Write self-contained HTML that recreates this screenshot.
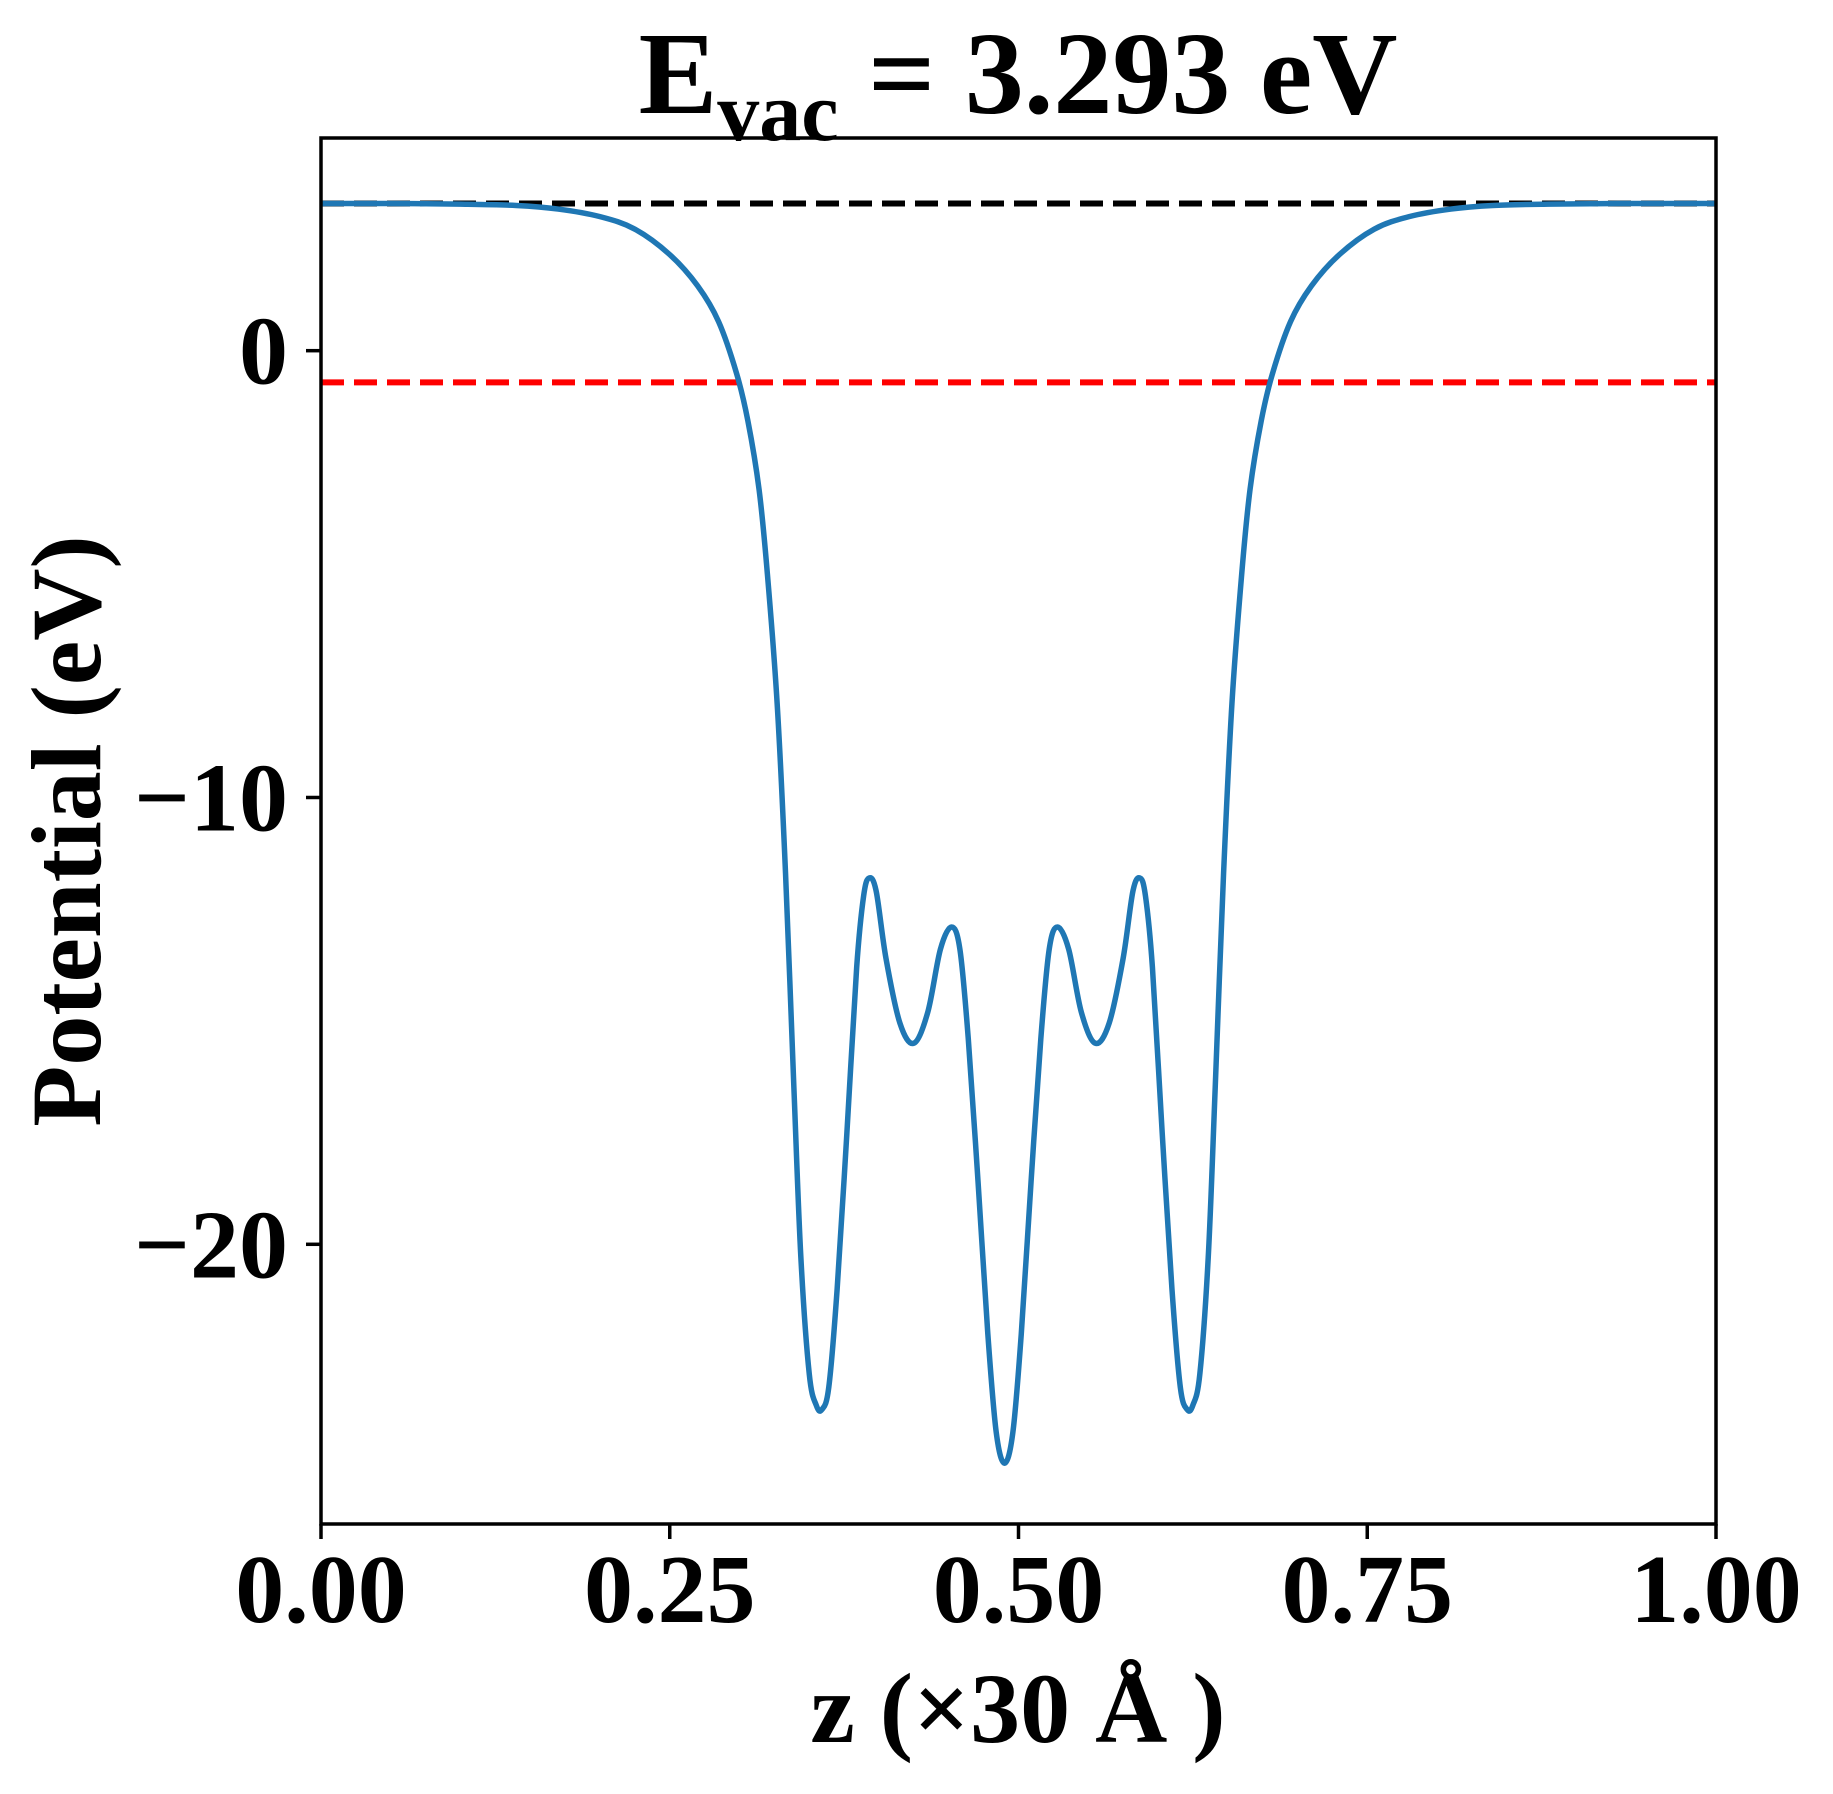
<!DOCTYPE html>
<html>
<head>
<meta charset="utf-8">
<style>
  html,body{margin:0;padding:0;background:#fff;}
  svg{display:block;}
  text{font-family:"Liberation Serif","DejaVu Serif",serif;font-weight:bold;fill:#000;}
</style>
</head>
<body>
<svg id="chart" width="1833" height="1794" viewBox="0 0 1833 1794" xmlns="http://www.w3.org/2000/svg">
  <g id="plot"></g>
  <g id="axes"></g>
  <text x="1018" y="113" font-size="118" text-anchor="middle">E<tspan font-size="84" dy="27">vac</tspan><tspan dy="-27"> = 3.293 eV</tspan></text>
  <text x="1018" y="1742" font-size="100" text-anchor="middle">z (×30 Å )</text>
  <text transform="translate(100,831) rotate(-90)" font-size="100" text-anchor="middle">Potential (eV)</text>
</svg>
<script>
const zValues = [0, 0.05, 0.10, 0.14, 0.17, 0.20, 0.225, 0.25, 0.27, 0.285, 0.298, 0.306, 0.314, 0.320, 0.327, 0.333, 0.339, 0.344, 0.350, 0.355, 0.359, 0.364, 0.370, 0.377, 0.384, 0.389, 0.393, 0.398, 0.405, 0.415, 0.425, 0.435, 0.444, 0.452, 0.458, 0.464, 0.471, 0.478, 0.484, 0.490,
  0.496, 0.502, 0.509, 0.516, 0.522, 0.528, 0.536, 0.545, 0.555, 0.565, 0.575, 0.582, 0.587, 0.591, 0.596, 0.603, 0.610, 0.616, 0.621, 0.625, 0.630, 0.636, 0.641, 0.647, 0.653, 0.660, 0.666, 0.674, 0.682, 0.695, 0.710, 0.730, 0.755, 0.780, 0.810, 0.840, 0.880, 0.930, 1.0];
const potentialValues = [3.293, 3.293, 3.28, 3.25, 3.17, 3.0, 2.72, 2.15, 1.45, 0.65, -0.52, -1.57, -3.1, -5.0, -7.9, -11.7, -16.5, -20.3, -22.9, -23.6, -23.7, -23.2, -21.0, -17.5, -13.8, -12.2, -11.8, -12.1, -13.6, -15.05, -15.5, -14.8, -13.4, -12.9, -13.4, -15.4, -18.6, -22.0, -24.2, -24.9,
  -24.2, -22.0, -18.6, -15.4, -13.4, -12.9, -13.4, -14.8, -15.5, -15.05, -13.6, -12.1, -11.8, -12.2, -13.8, -17.5, -21.0, -23.2, -23.7, -23.6, -22.9, -20.3, -16.5, -11.7, -7.9, -5.0, -3.1, -1.57, -0.52, 0.65, 1.45, 2.15, 2.72, 3.0, 3.17, 3.25, 3.28, 3.293, 3.293];
const vacuumLevel = [3.293];
const fermiLevel = [-0.71];
const xTicks = [0, 0.25, 0.5, 0.75, 1.0];
const xTickLabels = ["0.00", "0.25", "0.50", "0.75", "1.00"];
const yTicks = [0, -10, -20];
const yTickLabels = ["0", "−10", "−20"];

const L = 321, R = 1716, T = 138, B = 1524;
const xMin = 0, xMax = 1, yMax = 4.76, yMin = -26.26;
function xs(v){ return L + (v - xMin) / (xMax - xMin) * (R - L); }
function ys(v){ return T + (yMax - v) / (yMax - yMin) * (B - T); }

const NS = "http://www.w3.org/2000/svg";
const plot = document.getElementById('plot');
const axes = document.getElementById('axes');

const defs = document.createElementNS(NS, 'defs');
const cp = document.createElementNS(NS, 'clipPath');
cp.setAttribute('id', 'clip');
const cr = document.createElementNS(NS, 'rect');
cr.setAttribute('x', L); cr.setAttribute('y', T); cr.setAttribute('width', R - L); cr.setAttribute('height', B - T);
cp.appendChild(cr); defs.appendChild(cp);
document.getElementById('chart').insertBefore(defs, plot);
plot.setAttribute('clip-path', 'url(#clip)');

const vac = document.createElementNS(NS, 'line');


vac.setAttribute('x1', xs(0)); vac.setAttribute('x2', xs(1));
vac.setAttribute('y1', ys(vacuumLevel[0])); vac.setAttribute('y2', ys(vacuumLevel[0]));
vac.setAttribute('stroke', '#000'); vac.setAttribute('stroke-width', '6');
vac.setAttribute('stroke-dasharray', '23 10');
plot.appendChild(vac);

const ef = document.createElementNS(NS, 'line');


ef.setAttribute('x1', xs(0)); ef.setAttribute('x2', xs(1));
ef.setAttribute('y1', ys(fermiLevel[0])); ef.setAttribute('y2', ys(fermiLevel[0]));
ef.setAttribute('stroke', '#ff0000'); ef.setAttribute('stroke-width', '6');
ef.setAttribute('stroke-dasharray', '23 10');
plot.appendChild(ef);

const pts = zValues.map((z, i) => [xs(z), ys(potentialValues[i])]);
let d = 'M' + pts[0][0].toFixed(2) + ',' + pts[0][1].toFixed(2);
for (let i = 0; i < pts.length - 1; i++) {
  const p0 = pts[Math.max(0, i - 1)], p1 = pts[i], p2 = pts[i + 1], p3 = pts[Math.min(pts.length - 1, i + 2)];
  const c1x = p1[0] + (p2[0] - p0[0]) / 6, c1y = p1[1] + (p2[1] - p0[1]) / 6;
  const c2x = p2[0] - (p3[0] - p1[0]) / 6, c2y = p2[1] - (p3[1] - p1[1]) / 6;
  d += ' C' + c1x.toFixed(2) + ',' + c1y.toFixed(2) + ' ' + c2x.toFixed(2) + ',' + c2y.toFixed(2) + ' ' + p2[0].toFixed(2) + ',' + p2[1].toFixed(2);
}
const curve = document.createElementNS(NS, 'path');


curve.setAttribute('d', d);
curve.setAttribute('fill', 'none');
curve.setAttribute('stroke', '#1f77b4');
curve.setAttribute('stroke-width', '5.5');
curve.setAttribute('stroke-linejoin', 'round');
plot.appendChild(curve);

const frame = document.createElementNS(NS, 'rect');


frame.setAttribute('x', L); frame.setAttribute('y', T);
frame.setAttribute('width', R - L); frame.setAttribute('height', B - T);
frame.setAttribute('fill', 'none'); frame.setAttribute('stroke', '#000'); frame.setAttribute('stroke-width', '3.5');
axes.appendChild(frame);

xTicks.forEach((v, i) => {
  const t = document.createElementNS(NS, 'line');
  
  
  t.setAttribute('x1', xs(v)); t.setAttribute('x2', xs(v));
  t.setAttribute('y1', B); t.setAttribute('y2', B + 15);
  t.setAttribute('stroke', '#000'); t.setAttribute('stroke-width', '3.5');
  axes.appendChild(t);
  const lb = document.createElementNS(NS, 'text');
  
  
  lb.setAttribute('x', xs(v)); lb.setAttribute('y', 1622);
  lb.setAttribute('font-size', '98'); lb.setAttribute('text-anchor', 'middle');
  lb.textContent = xTickLabels[i];
  axes.appendChild(lb);
});

yTicks.forEach((v, i) => {
  const t = document.createElementNS(NS, 'line');
  
  
  t.setAttribute('x1', L - 15); t.setAttribute('x2', L);
  t.setAttribute('y1', ys(v)); t.setAttribute('y2', ys(v));
  t.setAttribute('stroke', '#000'); t.setAttribute('stroke-width', '3.5');
  axes.appendChild(t);
  const lb = document.createElementNS(NS, 'text');
  
  
  lb.setAttribute('x', 288); lb.setAttribute('y', ys(v) + 33);
  lb.setAttribute('font-size', '98'); lb.setAttribute('text-anchor', 'end');
  lb.textContent = yTickLabels[i];
  axes.appendChild(lb);
});
</script>
</body>
</html>
